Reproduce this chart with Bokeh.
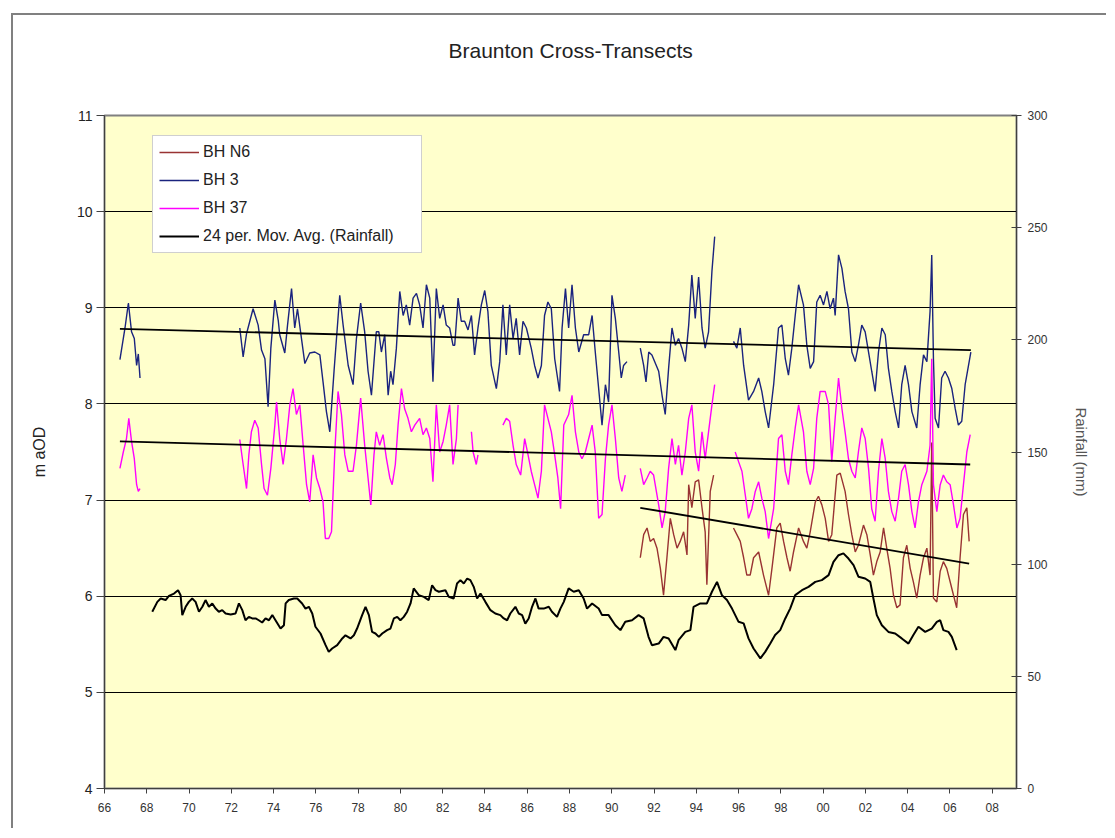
from bokeh.plotting import figure
from bokeh.models import Range1d, LinearAxis, FixedTicker, Title
from bokeh.embed import file_html
from bokeh.resources import INLINE

NaN = float("nan")

title_text = "Braunton Cross-Transects"
x_tick_years = list(range(1966, 2009, 2))
left_ticks = [4, 5, 6, 7, 8, 9, 10, 11]
right_ticks = [0, 50, 100, 150, 200, 250, 300]

# BH 3 (m aOD)
bh3_year = [1966.73, 1966.97, 1967.13, 1967.28, 1967.41, 1967.52, 1967.60, 1967.68, NaN,
            1972.40, 1972.56, 1972.72, 1973.03, 1973.27, 1973.43, 1973.59, 1973.74, 1973.87, 1974.06,
            1974.22, 1974.29, 1974.53, 1974.66, 1974.85, 1975.00, 1975.13, 1975.32, 1975.48, 1975.71,
            1975.95, 1976.19, 1976.34, 1976.50, 1976.66, 1976.86, 1977.13, 1977.29, 1977.53, 1977.76,
            1977.92, 1978.12, 1978.31, 1978.47, 1978.63, 1978.86, 1978.98, 1979.10, 1979.26, 1979.42,
            1979.54, 1979.65, 1979.81, 1979.97, 1980.13, 1980.28, 1980.44, 1980.60, 1980.76, 1980.91,
            1981.07, 1981.23, 1981.39, 1981.54, 1981.70, 1981.86, 1982.02, 1982.17, 1982.33, 1982.49,
            1982.57, 1982.73, 1982.88, 1983.04, 1983.20, 1983.36, 1983.51, 1983.67, 1983.83, 1983.99,
            1984.14, 1984.30, 1984.54, 1984.70, 1984.85, 1985.01, 1985.17, 1985.33, 1985.48, 1985.64,
            1985.80, 1985.96, 1986.19, 1986.35, 1986.51, 1986.67, 1986.82, 1986.98, 1987.14, 1987.30,
            1987.53, 1987.65, 1987.81, 1987.96, 1988.12, 1988.28, 1988.44, 1988.67, 1988.91, 1989.07,
            1989.22, 1989.38, 1989.54, 1989.70, 1989.85, 1990.01, 1990.17, 1990.33, 1990.45, 1990.56,
            1990.72, NaN,
            1991.35, 1991.51, 1991.62, 1991.75, 1991.90, 1992.22, 1992.38, 1992.53, 1992.69, 1992.85,
            1993.01, 1993.16, 1993.32, 1993.48, 1993.64, 1993.79, 1993.95, 1994.11, 1994.27, 1994.42,
            1994.58, 1994.74, 1994.87, NaN,
            1995.76, 1995.92, 1996.08, 1996.24, 1996.47, 1996.71, 1996.95, 1997.10, 1997.26, 1997.42,
            1997.66, 1997.89, 1998.05, 1998.21, 1998.36, 1998.52, 1998.68, 1998.84, 1999.07, 1999.23,
            1999.39, 1999.55, 1999.70, 1999.86, 2000.02, 2000.18, 2000.33, 2000.49, 2000.57, 2000.73,
            2000.89, 2001.04, 2001.20, 2001.36, 2001.52, 2001.67, 2001.83, 2001.99, 2002.15, 2002.30,
            2002.46, 2002.62, 2002.78, 2002.94, 2003.09, 2003.25, 2003.41, 2003.57, 2003.72, 2003.88,
            2004.04, 2004.20, 2004.43, 2004.59, 2004.75, 2004.91, 2005.06, 2005.14, 2005.22, 2005.30,
            2005.46, 2005.61, 2005.77, 2005.93, 2006.09, 2006.25, 2006.40, 2006.56, 2006.72, 2006.99]
bh3_level = [8.46, 8.79, 9.05, 8.75, 8.68, 8.40, 8.52, 8.27, NaN,
             8.79, 8.49, 8.73, 8.99, 8.82, 8.56, 8.47, 7.97, 8.58, 9.08,
             8.87, 8.72, 8.53, 8.82, 9.20, 8.79, 8.99, 8.68, 8.42, 8.53,
             8.54, 8.51, 8.23, 7.92, 7.71, 8.34, 9.13, 8.82, 8.40, 8.20,
             8.68, 9.05, 8.75, 8.34, 8.09, 8.75, 8.75, 8.54, 8.72, 8.09,
             8.34, 8.20, 8.58, 9.17, 8.92, 9.03, 8.82, 9.10, 9.15, 9.03,
             8.79, 9.24, 9.10, 8.23, 9.20, 8.89, 9.03, 8.82, 8.79, 8.61,
             8.61, 9.10, 8.86, 8.86, 8.77, 8.92, 8.51, 8.79, 9.03, 9.18,
             8.96, 8.40, 8.16, 8.44, 9.03, 8.51, 9.03, 8.68, 8.89, 8.51,
             8.86, 8.79, 8.58, 8.40, 8.27, 8.40, 8.92, 9.06, 8.99, 8.47,
             8.13, 8.79, 9.20, 8.79, 9.24, 8.79, 8.54, 8.72, 8.72, 8.92,
             8.54, 8.16, 7.78, 8.20, 8.02, 9.13, 8.89, 8.54, 8.27, 8.40,
             8.44, NaN,
             8.58, 8.40, 8.23, 8.54, 8.51, 8.34, 8.09, 7.89, 8.37, 8.79,
             8.61, 8.68, 8.58, 8.44, 8.82, 9.34, 8.89, 9.32, 8.79, 8.58,
             8.75, 9.38, 9.74, NaN,
             8.65, 8.58, 8.79, 8.40, 8.04, 8.13, 8.27, 8.13, 7.92, 7.75,
             8.20, 8.79, 8.82, 8.47, 8.30, 8.58, 8.92, 9.24, 9.03, 8.61,
             8.37, 8.44, 9.06, 9.13, 9.03, 9.17, 8.99, 9.10, 8.92, 9.55,
             9.41, 9.17, 8.99, 8.54, 8.44, 8.61, 8.82, 8.75, 8.54, 8.34,
             8.13, 8.54, 8.79, 8.72, 8.37, 8.13, 7.92, 7.75, 8.20, 8.40,
             8.20, 7.92, 7.75, 8.20, 8.51, 8.44, 8.96, 9.55, 8.47, 7.85,
             7.75, 8.27, 8.34, 8.27, 8.16, 7.95, 7.78, 7.82, 8.20, 8.54]

# BH 37 (m aOD)
bh37_year = [1966.73, 1966.89, 1967.04, 1967.15, 1967.28, 1967.41, 1967.52, 1967.60, 1967.68, NaN,
             1972.40, 1972.56, 1972.72, 1972.83, 1972.95, 1973.11, 1973.27, 1973.43, 1973.55, 1973.71,
             1973.87, 1974.06, 1974.14, 1974.29, 1974.45, 1974.61, 1974.77, 1974.92, 1975.08, 1975.24,
             1975.40, 1975.56, 1975.71, 1975.87, 1976.03, 1976.19, 1976.34, 1976.45, 1976.61, 1976.74,
             1976.89, 1977.05, 1977.21, 1977.37, 1977.53, 1977.76, 1977.92, 1978.12, 1978.31, 1978.47,
             1978.60, 1978.75, 1978.86, 1979.02, 1979.18, 1979.34, 1979.50, 1979.61, 1979.76, 1979.89,
             1980.05, 1980.20, 1980.36, 1980.52, 1980.68, 1980.91, 1981.07, 1981.23, 1981.39, 1981.54,
             1981.70, 1981.86, 1982.02, 1982.17, 1982.33, 1982.49, 1982.65, 1982.73, NaN,
             1983.36, 1983.44, 1983.59, 1983.67, NaN,
             1984.85, 1985.01, 1985.17, 1985.33, 1985.48, 1985.69, 1985.88, 1986.04, 1986.19, 1986.35,
             1986.51, 1986.67, 1986.82, 1986.98, 1987.14, 1987.30, 1987.45, 1987.58, 1987.73, 1987.96,
             1988.12, 1988.28, 1988.44, 1988.59, 1988.75, 1988.91, 1989.07, 1989.22, 1989.38, 1989.54,
             1989.70, 1989.85, 1990.01, 1990.17, 1990.33, 1990.48, 1990.64, NaN,
             1991.35, 1991.51, 1991.67, 1991.82, 1991.98, 1992.22, 1992.38, 1992.53, 1992.69, 1992.85,
             1993.01, 1993.16, 1993.32, 1993.48, 1993.64, 1993.79, 1993.95, 1994.11, 1994.27, 1994.42,
             1994.58, 1994.74, 1994.87, NaN,
             1995.84, 1996.00, 1996.16, 1996.32, 1996.47, 1996.63, 1996.79, 1996.95, 1997.10, 1997.26,
             1997.42, 1997.66, 1997.89, 1998.05, 1998.21, 1998.36, 1998.52, 1998.68, 1998.84, 1999.07,
             1999.23, 1999.39, 1999.55, 1999.70, 1999.86, 2000.10, 2000.26, 2000.41, 2000.57, 2000.73,
             2000.89, 2001.04, 2001.20, 2001.36, 2001.52, 2001.67, 2001.83, 2001.99, 2002.15, 2002.30,
             2002.46, 2002.62, 2002.78, 2002.94, 2003.09, 2003.25, 2003.41, 2003.57, 2003.72, 2003.88,
             2004.04, 2004.20, 2004.35, 2004.51, 2004.67, 2004.91, 2005.06, 2005.14, 2005.22, 2005.38,
             2005.54, 2005.69, 2005.85, 2006.01, 2006.17, 2006.33, 2006.48, 2006.64, 2006.80, 2006.96]
bh37_level = [7.33, 7.50, 7.64, 7.85, 7.61, 7.43, 7.16, 7.09, 7.12, NaN,
              7.63, 7.37, 7.12, 7.47, 7.71, 7.83, 7.75, 7.37, 7.12, 7.05,
              7.33, 7.78, 8.02, 7.64, 7.37, 7.64, 7.99, 8.16, 7.89, 7.99,
              7.57, 7.16, 6.98, 7.47, 7.23, 7.12, 6.98, 6.60, 6.60, 6.67,
              7.47, 8.13, 7.89, 7.47, 7.30, 7.30, 7.57, 8.06, 7.57, 7.23,
              6.95, 7.47, 7.71, 7.57, 7.68, 7.43, 7.23, 7.16, 7.37, 7.78,
              8.16, 7.95, 7.85, 7.71, 7.78, 7.85, 7.68, 7.75, 7.64, 7.19,
              7.99, 7.50, 7.61, 7.78, 7.99, 7.37, 7.64, 7.99, NaN,
              7.71, 7.50, 7.37, 7.47, NaN,
              7.78, 7.85, 7.82, 7.57, 7.37, 7.26, 7.64, 7.47, 7.30, 7.16,
              7.02, 7.30, 7.99, 7.85, 7.71, 7.47, 7.23, 6.91, 7.78, 7.89,
              8.09, 7.71, 7.50, 7.43, 7.50, 7.64, 7.78, 7.50, 6.81, 6.85,
              7.43, 7.78, 7.99, 7.64, 7.23, 7.09, 7.26, NaN,
              7.33, 7.16, 7.23, 7.30, 7.26, 6.95, 6.71, 6.88, 7.33, 7.64,
              7.37, 7.57, 7.26, 7.50, 7.85, 7.99, 7.50, 7.30, 7.71, 7.43,
              7.71, 7.99, 8.20, NaN,
              7.50, 7.40, 7.30, 7.05, 6.81, 6.91, 7.09, 7.19, 7.02, 6.88,
              6.60, 6.91, 7.64, 7.68, 7.30, 7.16, 7.47, 7.75, 7.99, 7.71,
              7.30, 7.16, 7.33, 7.85, 8.13, 8.13, 7.99, 7.40, 7.85, 8.27,
              7.95, 7.71, 7.43, 7.30, 7.23, 7.50, 7.75, 7.64, 7.33, 6.91,
              6.78, 7.30, 7.64, 7.43, 7.09, 6.88, 6.78, 7.02, 7.30, 7.37,
              7.16, 6.88, 6.71, 6.98, 7.16, 7.30, 7.57, 8.47, 7.16, 6.88,
              7.16, 7.26, 7.19, 7.16, 6.95, 6.71, 6.81, 7.16, 7.50, 7.68]

# BH N6 (m aOD)
bhn6_year = [1991.35, 1991.51, 1991.67, 1991.82, 1991.98, 1992.14, 1992.30, 1992.45, 1992.61, 1992.77,
             1992.93, 1993.09, 1993.24, 1993.40, 1993.56, 1993.64, 1993.79, 1993.95, 1994.11, 1994.27,
             1994.42, 1994.50, 1994.66, 1994.82, NaN,
             1995.76, 1995.92, 1996.08, 1996.24, 1996.39, 1996.55, 1996.71, 1996.95, 1997.18, 1997.42,
             1997.58, 1997.81, 1997.97, 1998.13, 1998.29, 1998.44, 1998.60, 1998.84, 1999.07, 1999.23,
             1999.39, 1999.63, 1999.78, 1999.94, 2000.10, 2000.26, 2000.41, 2000.65, 2000.81, 2001.04,
             2001.20, 2001.36, 2001.52, 2001.67, 2001.91, 2002.07, 2002.23, 2002.38, 2002.54, 2002.70,
             2002.86, 2003.01, 2003.17, 2003.33, 2003.49, 2003.64, 2003.80, 2003.96, 2004.12, 2004.27,
             2004.43, 2004.59, 2004.75, 2004.91, 2005.06, 2005.14, 2005.22, 2005.38, 2005.54, 2005.69,
             2005.85, 2006.01, 2006.17, 2006.32, 2006.48, 2006.64, 2006.80, 2006.91]
bhn6_level = [6.40, 6.64, 6.71, 6.57, 6.60, 6.50, 6.29, 6.01, 6.40, 6.81,
              6.64, 6.50, 6.57, 6.67, 6.43, 7.16, 6.92, 7.19, 7.21, 6.92,
              6.67, 6.12, 7.09, 7.26, NaN,
              6.71, 6.64, 6.57, 6.40, 6.22, 6.22, 6.40, 6.46, 6.22, 6.01,
              6.29, 6.71, 6.76, 6.57, 6.40, 6.26, 6.46, 6.71, 6.57, 6.50,
              6.67, 6.98, 7.04, 6.95, 6.81, 6.57, 6.64, 7.26, 7.28, 7.09,
              6.85, 6.64, 6.46, 6.53, 6.74, 6.64, 6.43, 6.22, 6.36, 6.46,
              6.71, 6.50, 6.29, 6.01, 5.88, 5.91, 6.40, 6.53, 6.29, 6.15,
              5.98, 6.22, 6.40, 6.50, 6.22, 7.60, 5.98, 5.94, 6.26, 6.36,
              6.29, 6.15, 6.01, 5.88, 6.40, 6.85, 6.92, 6.57]

# 24-period moving average of rainfall (mm, right axis)
rain_year = [1968.26, 1968.50, 1968.66, 1968.89, 1969.05, 1969.29, 1969.48, 1969.60, 1969.68, 1969.84,
             1969.99, 1970.15, 1970.31, 1970.47, 1970.63, 1970.78, 1970.94, 1971.10, 1971.26, 1971.41,
             1971.57, 1971.73, 1971.97, 1972.20, 1972.36, 1972.52, 1972.67, 1972.83, 1972.99, 1973.15,
             1973.30, 1973.46, 1973.62, 1973.78, 1973.94, 1974.09, 1974.33, 1974.49, 1974.57, 1974.72,
             1974.96, 1975.12, 1975.35, 1975.51, 1975.67, 1975.83, 1975.98, 1976.22, 1976.46, 1976.61,
             1976.77, 1977.01, 1977.25, 1977.40, 1977.64, 1977.80, 1977.95, 1978.19, 1978.35, 1978.51,
             1978.66, 1978.82, 1978.98, 1979.14, 1979.37, 1979.53, 1979.69, 1979.85, 1980.00, 1980.16,
             1980.32, 1980.48, 1980.63, 1980.87, 1981.11, 1981.34, 1981.50, 1981.66, 1981.82, 1982.13,
             1982.29, 1982.52, 1982.68, 1982.84, 1983.00, 1983.16, 1983.31, 1983.47, 1983.63, 1983.79,
             1984.02, 1984.26, 1984.49, 1984.73, 1984.89, 1985.05, 1985.20, 1985.44, 1985.60, 1985.76,
             1985.91, 1986.07, 1986.23, 1986.39, 1986.54, 1986.78, 1987.02, 1987.17, 1987.41, 1987.57,
             1987.73, 1987.96, 1988.20, 1988.44, 1988.67, 1988.83, 1989.07, 1989.38, 1989.54, 1989.85,
             1990.17, 1990.41, 1990.64, 1990.96, 1991.27, 1991.51, 1991.74, 1991.90, 1992.22, 1992.45,
             1992.69, 1993.01, 1993.16, 1993.48, 1993.72, 1993.87, 1994.19, 1994.50, 1994.74, 1994.98,
             1995.21, 1995.45, 1995.69, 1996.00, 1996.24, 1996.47, 1996.71, 1997.03, 1997.26, 1997.50,
             1997.73, 1997.97, 1998.21, 1998.44, 1998.68, 1999.00, 1999.31, 1999.63, 1999.94, 2000.26,
             2000.49, 2000.73, 2000.96, 2001.20, 2001.44, 2001.67, 2001.99, 2002.23, 2002.38, 2002.54,
             2002.78, 2003.09, 2003.41, 2003.72, 2004.04, 2004.27, 2004.51, 2004.83, 2005.14, 2005.38,
             2005.54, 2005.69, 2005.93, 2006.09, 2006.32]
rain_mm = [78.8, 83.2, 84.7, 84.0, 85.9, 86.9, 88.4, 86.2, 77.3, 81.0,
           83.2, 84.7, 83.2, 78.8, 81.0, 84.0, 81.0, 82.5, 80.2, 78.8,
           79.5, 78.0, 77.6, 78.0, 82.5, 79.5, 75.0, 76.5, 75.8, 75.8,
           75.0, 74.0, 75.8, 75.0, 77.3, 75.0, 71.3, 72.8, 82.5, 84.0,
           84.7, 84.7, 82.5, 80.2, 81.0, 78.0, 72.1, 69.1, 63.9, 60.9,
           62.4, 63.9, 66.9, 68.3, 66.9, 68.3, 71.3, 77.3, 81.0, 77.3,
           69.8, 69.1, 67.6, 69.1, 70.6, 71.3, 75.8, 76.5, 75.0, 76.5,
           78.8, 82.5, 89.2, 86.2, 85.4, 84.0, 90.6, 88.4, 87.7, 88.4,
           85.4, 84.7, 91.4, 92.9, 91.4, 93.6, 92.9, 89.9, 84.7, 86.9,
           83.2, 79.5, 78.0, 77.3, 75.8, 75.0, 78.0, 81.0, 78.0, 77.3,
           73.5, 75.8, 81.0, 84.7, 80.2, 80.2, 81.0, 78.8, 76.5, 80.2,
           83.2, 89.2, 87.7, 88.4, 84.7, 80.2, 82.5, 80.2, 77.3, 77.3,
           72.8, 70.6, 74.3, 75.0, 77.3, 75.8, 67.6, 63.9, 64.6, 67.6,
           66.9, 61.7, 66.1, 69.8, 70.6, 81.0, 82.5, 82.5, 87.7, 92.1,
           86.2, 84.0, 80.2, 74.3, 73.6, 66.9, 62.4, 58.0, 60.9, 64.6,
           68.4, 70.6, 75.8, 80.2, 86.2, 88.4, 89.9, 92.1, 92.9, 95.1,
           101.0, 104.0, 104.8, 102.5, 99.6, 94.4, 93.6, 92.1, 84.7, 77.3,
           72.8, 69.8, 69.1, 66.9, 64.6, 68.4, 72.1, 69.8, 71.3, 74.3,
           75.0, 70.6, 69.8, 67.6, 61.7]

# Linear trend lines (end points)
trend_bh3_year = [1966.73, 2006.99]
trend_bh3_level = [8.78, 8.56]
trend_bh37_year = [1966.73, 2006.96]
trend_bh37_level = [7.61, 7.37]
trend_bhn6_year = [1991.35, 2006.91]
trend_bhn6_level = [6.92, 6.34]

FONT = "Liberation Sans"

p = figure(width=1095, height=815, output_backend="svg", toolbar_location=None,
           x_range=Range1d(1966, 2009.15), y_range=Range1d(4, 11),
           min_border_left=91, min_border_right=92, min_border_top=100, min_border_bottom=42)
p.margin = (13, 0, 0, 11)
p.styles = {"border-left": "2px solid #808080", "border-top": "2px solid #808080"}
p.extra_y_ranges = {"rain": Range1d(0, 300)}

# chart title (outermost slot of the top panel)
p.title.text = title_text
p.title.align = "left"
p.title.offset = 344
p.title.standoff = 0
p.title.text_font = FONT
p.title.text_font_size = "21px"
p.title.text_font_style = "normal"
p.title.text_color = "#222222"
# blank spacer between the title and the plot frame
p.add_layout(Title(text=" ", text_font_size="10px", standoff=41), "above")

p.background_fill_color = "#FFFFCC"
p.border_fill_color = "white"
p.outline_line_color = "#808080"
p.outline_line_width = 2

p.xgrid.visible = False
p.ygrid.ticker = FixedTicker(ticks=left_ticks)
p.ygrid.grid_line_color = "black"
p.ygrid.grid_line_width = 1

xa = p.xaxis[0]
xa.ticker = FixedTicker(ticks=x_tick_years)
xa.major_label_overrides = {y: "%02d" % (y % 100) for y in x_tick_years}
xa.major_label_text_font = FONT
xa.major_label_text_font_size = "12px"
xa.major_label_text_color = "#333333"
xa.major_tick_out = 5
xa.major_tick_in = 0
xa.minor_tick_out = 0
xa.minor_tick_in = 0
xa.axis_line_color = "#404040"
xa.major_tick_line_color = "#404040"
xa.major_label_standoff = 9

ya = p.yaxis[0]
ya.ticker = FixedTicker(ticks=left_ticks)
ya.major_label_text_font = FONT
ya.major_label_text_font_size = "14px"
ya.major_label_text_color = "#222222"
ya.major_tick_out = 8
ya.major_tick_in = 0
ya.minor_tick_out = 0
ya.minor_tick_in = 0
ya.axis_line_color = "#404040"
ya.major_tick_line_color = "#404040"
ya.major_label_standoff = 4
ya.axis_label = "m aOD"
ya.axis_label_text_font = FONT
ya.axis_label_text_font_size = "16px"
ya.axis_label_text_font_style = "normal"
ya.axis_label_text_color = "#222222"
ya.axis_label_standoff = 26

ra = LinearAxis(y_range_name="rain", ticker=FixedTicker(ticks=right_ticks),
                axis_label="Rainfall (mm)")
ra.major_label_text_font = FONT
ra.major_label_text_font_size = "12px"
ra.major_label_text_color = "#333333"
ra.major_tick_out = 5
ra.major_tick_in = 5
ra.minor_tick_out = 0
ra.minor_tick_in = 0
ra.axis_line_color = "#404040"
ra.major_tick_line_color = "#404040"
ra.major_label_standoff = 6
ra.axis_label_text_font = FONT
ra.axis_label_text_font_size = "15px"
ra.axis_label_text_font_style = "normal"
ra.axis_label_text_color = "#555555"
ra.axis_label_standoff = 22
p.add_layout(ra, "right")

p.line(bhn6_year, bhn6_level, line_color="#993333", line_width=1.4, legend_label="BH N6")
p.line(bh3_year, bh3_level, line_color="#1A237E", line_width=1.4, legend_label="BH 3")
p.line(bh37_year, bh37_level, line_color="#FF00FF", line_width=1.4, legend_label="BH 37")
p.line(rain_year, rain_mm, line_color="black", line_width=2, y_range_name="rain",
       legend_label="24 per. Mov. Avg. (Rainfall)")

for tx, ty in [(trend_bh3_year, trend_bh3_level), (trend_bh37_year, trend_bh37_level),
               (trend_bhn6_year, trend_bhn6_level)]:
    p.line(tx, ty, line_color="black", line_width=1.8)

lg = p.legend[0]
lg.location = (48, 535)
lg.label_text_font = FONT
lg.label_text_font_size = "16px"
lg.label_text_color = "#222222"
lg.glyph_width = 40
lg.glyph_height = 20
lg.label_height = 20
lg.label_width = 212
lg.label_standoff = 4
lg.spacing = 8
lg.padding = 6
lg.margin = 0
lg.border_line_color = "#A0A0A0"
lg.background_fill_color = "white"
lg.background_fill_alpha = 1.0

open("out.html", "w").write(file_html(p, INLINE))
